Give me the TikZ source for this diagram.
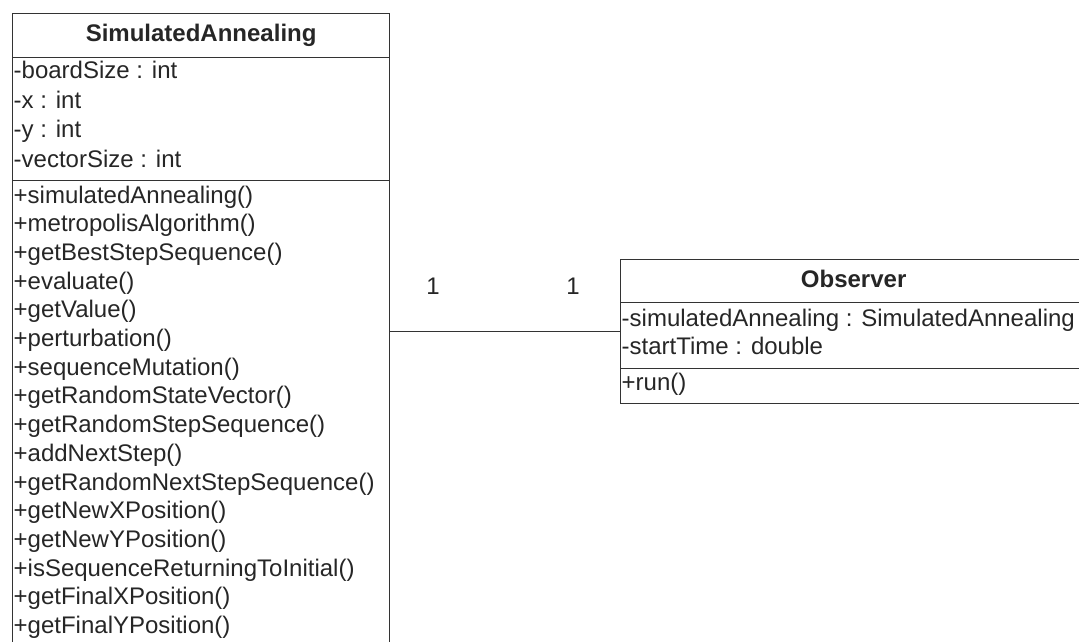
\documentclass[tikz,border=0pt]{standalone}
\usepackage{fontspec}
\setmainfont{Liberation Sans}
\begin{document}
\begin{tikzpicture}[x=1pt,y=-1pt,
        compartment/.style={draw=black!80,line width=1.3pt,rectangle,inner sep=0pt,anchor=north west,minimum width=#1},
        member/.style={anchor=west,inner sep=0pt,text height=17pt,text depth=5pt,font=\fontsize{24}{29}\selectfont,text=black!85},
        classname/.style={member,anchor=center,font=\fontsize{24}{29}\selectfont\bfseries},
        assoc/.style={draw=black!80,line width=1.3pt}]
    \useasboundingbox (0,0) rectangle (1079,641);
    \clip (0,0) rectangle (1079,641);

    % SimulatedAnnealing
    \node[compartment=377pt,minimum height=44pt] (saHead) at (12,13) {};
    \node[compartment=377pt,minimum height=123pt] (saAttr) at (12,57) {};
    \node[compartment=377pt,minimum height=480pt] (saOps) at (12,180) {};
    \node[classname] (saName) at (saHead.center) {SimulatedAnnealing};
    \foreach \t [count=\i] in {-boardSize : int,-x : int,-y : int,-vectorSize : int}
        \node[member] (saAttr\i) at (13.5,{43+29.6*\i}) {\t};
    \foreach \t [count=\i] in {+simulatedAnnealing(),+metropolisAlgorithm(),+getBestStepSequence(),
            +evaluate(),+getValue(),+perturbation(),+sequenceMutation(),+getRandomStateVector(),
            +getRandomStepSequence(),+addNextStep(),+getRandomNextStepSequence(),+getNewXPosition(),
            +getNewYPosition(),+isSequenceReturningToInitial(),+getFinalXPosition(),+getFinalYPosition()}
        \node[member] (saOp\i) at (13.5,{168.3+28.7*\i}) {\t};

    % Observer
    \node[compartment=466pt,minimum height=43pt] (obsHead) at (620,259) {};
    \node[compartment=466pt,minimum height=66pt] (obsAttr) at (620,302) {};
    \node[compartment=466pt,minimum height=35pt] (obsOps) at (620,368) {};
    \node[classname] (obsName) at (obsHead.center) {Observer};
    \node[member] (obsAttr1) at (621.5,320) {-simulatedAnnealing : SimulatedAnnealing};
    \node[member] (obsAttr2) at (621.5,348) {-startTime : double};
    \node[member] (obsOp1) at (621.5,384) {+run()};

    % association
    \coordinate (assocEnd) at ([yshift=4pt]obsAttr.west);
    \draw[assoc] (saOps.east |- assocEnd) -- (assocEnd);
    \node[member,anchor=center] (multSA) at (433,288) {1};
    \node[member,anchor=center] (multObs) at (573,288) {1};
\end{tikzpicture}
\end{document}
